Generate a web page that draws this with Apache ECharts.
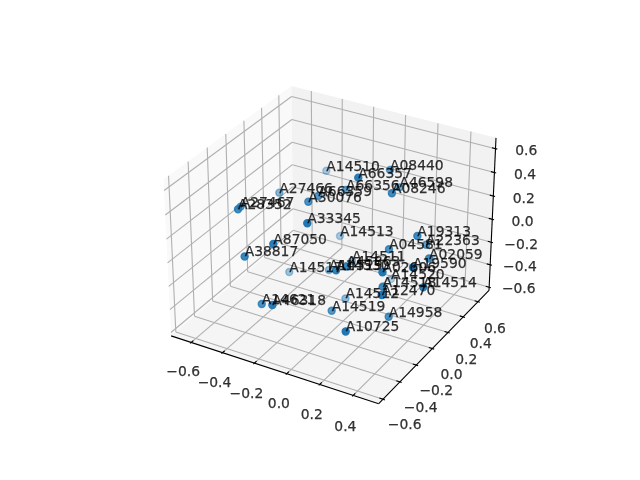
<!DOCTYPE html>
<html><head><meta charset="utf-8"><style>html,body{margin:0;background:#fff}#c{width:640px;height:480px}</style>
<script src="https://cdn.jsdelivr.net/npm/echarts@6/dist/echarts.min.js"></script></head><body><div id="c"></div>
<script>
const xTicks=[-0.6,-0.4,-0.2,0,0.2,0.4];
const yTicks=[-0.6,-0.4,-0.2,0,0.2,0.4,0.6];
const zTicks=[-0.6,-0.4,-0.2,0,0.2,0.4,0.6];
const xLim=[-0.73,0.55], yLim=[-0.65,0.75], zLim=[-0.63,0.69];
const names=["A14510","A08440","A66357","A66356","A46598","A08246","A27466","A66359","A30076","A27467","A28352","A33345","A14513","A19313","A22363","A04581","A87050","A38817","A02059","A19590","A14511","A14517","A14515","A14530","A45863","A02606","A14520","A14518","A14514","A12470","A14512","A14519","A14958","A10725","A14621","A46318"];
const xValues=[-0.347,0.111,0.106,-0.066,0.127,0.227,-0.457,-0.159,-0.170,-0.503,-0.453,-0.037,-0.191,0.399,0.378,0.262,-0.190,-0.332,0.482,0.469,-0.047,-0.357,-0.144,0.100,0.143,0.363,0.088,0.308,0.517,0.389,-0.027,0.055,0.350,0.275,-0.248,-0.115];
const yValues=[0.456,0.337,-0.034,0.157,0.425,0.127,0.106,0.010,-0.084,-0.242,-0.355,-0.341,0.326,0.094,0.253,0.031,-0.439,-0.502,0.071,-0.100,0.196,0.029,0.104,-0.275,-0.235,-0.249,0.419,-0.132,-0.068,-0.307,0.080,-0.240,-0.139,-0.498,-0.475,-0.592];
const zValues=[0.257,0.500,0.652,0.373,0.309,0.474,0.234,0.376,0.380,0.308,0.374,0.411,-0.173,0.207,0.024,0.081,0.241,0.121,0.066,0.096,-0.252,-0.367,-0.310,0.036,0.059,0.110,-0.500,-0.111,-0.071,-0.030,-0.496,-0.351,-0.344,-0.254,-0.264,-0.136];

const F=1.8294640721620434*25/24/Math.sqrt(41), B=[4*F,4*F,3*F], R=B.map(v=>v/2), c30=Math.cos(Math.PI/6);
const w=[c30*Math.cos(-Math.PI/3),c30*Math.sin(-Math.PI/3),.5], u=[.8660254,.5,0], v=[w[1]*u[2]-w[2]*u[1],w[2]*u[0]-w[0]*u[2],w[0]*u[1]-w[1]*u[0]];
const E=R.map((r,i)=>r+10*w[i]);
const dot=(a,b)=>a[0]*b[0]+a[1]*b[1]+a[2]*b[2];
const YOFF=4.6;
function project(x,y,z){const P=[(x-xLim[0])/(xLim[1]-xLim[0])*B[0],(y-yLim[0])/(yLim[1]-yLim[0])*B[1],(z-zLim[0])/(zLim[1]-zLim[0])*B[2]];
 const d=[P[0]-E[0],P[1]-E[1],P[2]-E[2]];const D=-dot(d,w);
 return [143.2+(dot(d,u)/D+.095)/.185*369.6, 422.4+YOFF-(dot(d,v)/D+.095)/.185*369.6, D];}
const [x0,x1]=xLim,[y0,y1]=yLim,[z0,z1]=zLim;
const panes=[[[x0,y0,z0],[x0,y1,z0],[x0,y1,z1],[x0,y0,z1],'#f9f9f9'],[[x0,y1,z0],[x1,y1,z0],[x1,y1,z1],[x0,y1,z1],'#f2f2f2'],[[x0,y0,z0],[x1,y0,z0],[x1,y1,z0],[x0,y1,z0],'#f5f5f5']];
const segs=[];const G='#b0b0b0',K='#000';
xTicks.forEach(t=>{segs.push([[t,y0,z0],[t,y1,z0],G],[[t,y1,z0],[t,y1,z1],G]);});
yTicks.forEach(t=>{segs.push([[x0,t,z0],[x1,t,z0],G],[[x0,t,z0],[x0,t,z1],G]);});
zTicks.forEach(t=>{segs.push([[x0,y0,t],[x0,y1,t],G],[[x0,y1,t],[x1,y1,t],G]);});
const dx=(x1-x0)/12,dy=(y1-y0)/12,dz=(z1-z0)/12;
segs.push([[x0,y0,z0],[x1,y0,z0],K],[[x1,y0,z0],[x1,y1,z0],K],[[x1,y1,z0],[x1,y1,z1],K]);
xTicks.forEach(t=>segs.push([[t,y0-.1*dy,z0],[t,y0+.2*dy,z0],K]));
yTicks.forEach(t=>segs.push([[x1+.1*dx,t,z0],[x1-.2*dx,t,z0],K]));
zTicks.forEach(t=>segs.push([[x1+.1*dx,y1,t],[x1-.2*dx,y1,t],K]));
const k=1.2;
const fmt=t=>(t<0?'\u2212':'')+Math.abs(t).toFixed(1);
const tl=[];
xTicks.forEach(t=>{const s=project(t,y0-k*dy,z0-k*dz);tl.push([s[0]+4.5,s[1]+4,fmt(t)]);});
yTicks.forEach(t=>{const s=project(x1+k*dx,t*.965,z0-k*dz);tl.push([s[0]-1.75,s[1]+5.5,fmt(t)]);});
zTicks.forEach(t=>{const s=project(x1+k*dx,y1+k*dy,t);tl.push([s[0]-1,s[1]+7,fmt(t)]);});
const font='DejaVu Sans';
const proj=names.map((_,i)=>project(xValues[i],yValues[i],zValues[i]));
const ds=proj.map(p=>p[2]); const dmin=Math.min(...ds),dmax=Math.max(...ds);
const order=names.map((_,i)=>i).sort((a,b)=>ds[b]-ds[a]);
const chart=echarts.init(document.getElementById('c'),null,{renderer:'canvas'});
chart.setOption({animation:false,grid:{left:0,right:0,top:0,bottom:0},xAxis:{type:'value',min:0,max:640,show:false},yAxis:{type:'value',min:0,max:480,inverse:true,show:false},
series:[
{type:'custom',silent:true,z:1,data:panes.map((_,i)=>[i]),renderItem:(p,api)=>{const q=panes[p.dataIndex];return {type:'polygon',shape:{points:q.slice(0,4).map(c=>{const s=project(...c);return api.coord([s[0],s[1]]);})},style:{fill:q[4]}};}},
{type:'custom',silent:true,z:2,data:segs.map((_,i)=>[i]),renderItem:(p,api)=>{const q=segs[p.dataIndex];const a=project(...q[0]),b=project(...q[1]);const A=api.coord([a[0],a[1]]),C=api.coord([b[0],b[1]]);return {type:'line',shape:{x1:A[0],y1:A[1],x2:C[0],y2:C[1]},style:{stroke:q[2],lineWidth:1.1}};}},
{type:'scatter',silent:true,z:3,symbolSize:7,data:order.map(i=>{const s=proj[i];const al=1-.7*(s[2]-dmin)/(dmax-dmin);return {value:[s[0],s[1]],name:names[i],itemStyle:{color:`rgba(31,119,180,${al})`,borderColor:`rgba(31,119,180,${al})`,borderWidth:1.4,opacity:1}};})},
{type:'scatter',silent:true,z:4,symbolSize:0,data:order.map(i=>({value:[proj[i][0],proj[i][1]],name:names[i]})),label:{show:true,position:[0,4.4],align:'left',verticalAlign:'bottom',formatter:'{b}',color:'#000',fontFamily:font,fontSize:13.89,lineHeight:16,textBorderColor:'#000',textBorderWidth:0.25}},
{type:'scatter',silent:true,z:4,symbolSize:0,data:tl.map(t=>({value:[t[0],t[1]],name:t[2]})),label:{show:true,position:'inside',align:'center',verticalAlign:'middle',formatter:'{b}',color:'#000',fontFamily:font,fontSize:13.89,textBorderColor:'#000',textBorderWidth:0.25}}
]});
</script></body></html>
